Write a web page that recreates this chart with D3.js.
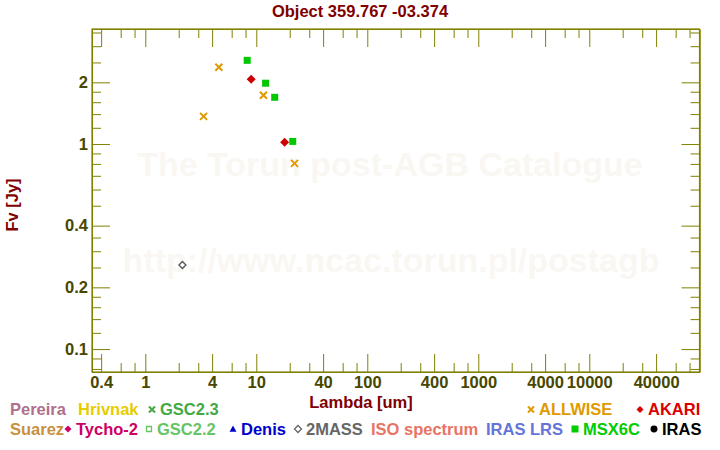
<!DOCTYPE html>
<html><head><meta charset="utf-8">
<script src="https://cdn.jsdelivr.net/npm/d3@7"></script>
<style>
body{margin:0;background:#fff;}
svg{display:block;font-family:"Liberation Sans",Arial,sans-serif;font-weight:bold;}
</style></head>
<body><svg id="c" width="720" height="450"></svg>
<script>
// ---- data ----
const titleText = "Object 359.767 -03.374";
const xLabel = "Lambda [um]";
const yLabel = "Fv [Jy]";
const watermark1 = "The Torun post-AGB Catalogue";
const watermark2 = "http://www.ncac.torun.pl/postagb";

const xDomain = [0.331, 98400];
const yDomain = [0.0773, 3.64];
const xMajorTicks = [0.4, 1, 4, 10, 40, 100, 400, 1000, 4000, 10000, 40000];
const xMinorTicks = [0.6, 0.8, 2, 3, 6, 8, 20, 30, 60, 80, 200, 300, 600, 800, 2000, 3000, 6000, 8000, 20000, 30000, 60000, 80000];
const yMajorTicks = [0.1, 0.2, 0.4, 1, 2];
const yMinorTicks = [0.08, 0.09, 0.12, 0.14, 0.16, 0.18, 0.25, 0.3, 0.35, 0.5, 0.6, 0.7, 0.8, 0.9, 1.2, 1.4, 1.6, 1.8, 2.5, 3, 3.5];

const allwiseLambda = [3.35, 4.6, 11.6, 22.1];
const allwiseFlux   = [1.365, 2.37, 1.73, 0.805];
const akariLambda   = [9, 18];
const akariFlux     = [2.07, 1.02];
const msxLambda     = [8.28, 12.13, 14.65, 21.3];
const msxFlux       = [2.56, 1.98, 1.69, 1.03];
const twomassLambda = [2.16];
const twomassFlux   = [0.257];

const legendRow1 = [
  {name:"Pereira", color:"#b0708c", sym:null},
  {name:"Hrivnak", color:"#e6cc00", sym:null},
  {name:"GSC2.3", color:"#44a844", sym:"x"},
  {name:"ALLWISE", color:"#e09a00", sym:"x"},
  {name:"AKARI", color:"#dd0000", sym:"diamond"}
];
const legendRow2 = [
  {name:"Suarez", color:"#c89040", sym:null},
  {name:"Tycho-2", color:"#cc0066", sym:"diamond"},
  {name:"GSC2.2", color:"#66c466", sym:"osquare"},
  {name:"Denis", color:"#0000cc", sym:"triangle"},
  {name:"2MASS", color:"#666666", sym:"odiamond"},
  {name:"ISO spectrum", color:"#e87464", sym:null},
  {name:"IRAS LRS", color:"#6474d8", sym:null},
  {name:"MSX6C", color:"#00cc00", sym:"square"},
  {name:"IRAS", color:"#000000", sym:"circle"}
];

// ---- layout ----
const L = 92, R = 699.5, T = 29, B = 372;
const FS = 16.5;
const axisColor = "#808000", tickLabelColor = "#474700", titleColor = "#800000";

const svg = d3.select("#c");
const x = d3.scaleLog().domain(xDomain).range([L, R]);
const y = d3.scaleLog().domain(yDomain).range([B, T]);

// watermark
svg.append("text").attr("x", 390).attr("y", 176).attr("text-anchor","middle")
  .attr("font-size",34).attr("fill","#faf7f3").text(watermark1);
svg.append("text").attr("x", 391).attr("y", 272).attr("text-anchor","middle")
  .attr("font-size",34).attr("fill","#faf7f3").text(watermark2);

// axes
function styleAxis(g){
  g.selectAll("path").attr("stroke", axisColor);
  g.selectAll("line").attr("stroke", axisColor);
  g.selectAll("text").attr("fill", tickLabelColor).attr("font-size",FS)
    .attr("font-family","'Liberation Sans',Arial,sans-serif").attr("font-weight","bold");
}
const fmt = d => String(d);
// bottom
svg.append("g").attr("transform",`translate(0,${B})`)
  .call(d3.axisBottom(x).tickValues(xMajorTicks).tickFormat(fmt).tickSizeInner(-18).tickSizeOuter(0).tickPadding(4))
  .call(styleAxis);
svg.append("g").attr("transform",`translate(0,${B})`)
  .call(d3.axisBottom(x).tickValues(xMinorTicks).tickFormat("").tickSizeInner(-9).tickSizeOuter(0))
  .call(styleAxis);
// top
svg.append("g").attr("transform",`translate(0,${T})`)
  .call(d3.axisTop(x).tickValues(xMajorTicks).tickFormat("").tickSizeInner(-18).tickSizeOuter(0))
  .call(styleAxis);
svg.append("g").attr("transform",`translate(0,${T})`)
  .call(d3.axisTop(x).tickValues(xMinorTicks).tickFormat("").tickSizeInner(-9).tickSizeOuter(0))
  .call(styleAxis);
// left
svg.append("g").attr("transform",`translate(${L},0)`)
  .call(d3.axisLeft(y).tickValues(yMajorTicks).tickFormat(fmt).tickSizeInner(-18).tickSizeOuter(0).tickPadding(4))
  .call(styleAxis);
svg.append("g").attr("transform",`translate(${L},0)`)
  .call(d3.axisLeft(y).tickValues(yMinorTicks).tickFormat("").tickSizeInner(-9).tickSizeOuter(0))
  .call(styleAxis);
// right
svg.append("g").attr("transform",`translate(${R},0)`)
  .call(d3.axisRight(y).tickValues(yMajorTicks).tickFormat("").tickSizeInner(-18).tickSizeOuter(0))
  .call(styleAxis);
svg.append("g").attr("transform",`translate(${R},0)`)
  .call(d3.axisRight(y).tickValues(yMinorTicks).tickFormat("").tickSizeInner(-9).tickSizeOuter(0))
  .call(styleAxis);
// frame
svg.append("rect").attr("x",L).attr("y",T).attr("width",R-L).attr("height",B-T)
  .attr("fill","none").attr("stroke",axisColor).attr("stroke-width",1.2);

// titles
svg.append("text").attr("x",360).attr("y",17).attr("text-anchor","middle")
  .attr("font-size",FS).attr("fill",titleColor).text(titleText);
svg.append("text").attr("x",361).attr("y",408).attr("text-anchor","middle")
  .attr("font-size",FS).attr("fill",titleColor).text(xLabel);
svg.append("text").attr("transform","translate(18,205) rotate(-90)").attr("text-anchor","middle")
  .attr("font-size",FS).attr("fill",titleColor).text(yLabel);

// marker paths
function symPath(type, s){
  const h = s/2;
  switch(type){
    case "x": return `M${-h},${-h}L${h},${h}M${-h},${h}L${h},${-h}`;
    case "diamond": case "odiamond": return `M0,${-h}L${h},0L0,${h}L${-h},0Z`;
    case "square": case "osquare": return `M${-h},${-h}H${h}V${h}H${-h}Z`;
    case "triangle": return `M0,${-h}L${h},${h*0.8}L${-h},${h*0.8}Z`;
    case "circle": return d3.symbol(d3.symbolCircle, s*s*0.78)();
  }
}
function drawMarker(g, type, color, s, cx, cy){
  const p = g.append("path").attr("d", symPath(type, s)).attr("transform",`translate(${cx},${cy})`);
  if(type==="x"){ p.attr("fill","none").attr("stroke",color).attr("stroke-width",2); }
  else if(type==="odiamond"||type==="osquare"){ p.attr("fill","#fff").attr("stroke",color).attr("stroke-width",1.3); }
  else { p.attr("fill",color); }
}

// data marks
const marks = svg.append("g");
allwiseLambda.forEach((l,i)=>drawMarker(marks,"x","#e09a00",7,x(l),y(allwiseFlux[i])));
akariLambda.forEach((l,i)=>drawMarker(marks,"diamond","#cc0000",9,x(l),y(akariFlux[i])));
msxLambda.forEach((l,i)=>drawMarker(marks,"square","#00c800",7,x(l),y(msxFlux[i])));
twomassLambda.forEach((l,i)=>drawMarker(marks,"odiamond","#555555",7,x(l),y(twomassFlux[i])));

// legend
const legendX1 = [10, 78, 160, 539, 648];
const legendX2 = [10, 76, 157, 241, 306, 371, 486, 583, 662];
function drawLegend(items, xs, baseline){
  const g = svg.append("g");
  items.forEach((it,i)=>{
    if(it.sym){
      const sz = it.sym==="osquare" ? 5 : (it.sym==="x"?6:7);
      drawMarker(g, it.sym, it.color, sz, xs[i]-8, baseline-5.5);
    }
    g.append("text").attr("x",xs[i]).attr("y",baseline).attr("font-size",FS)
      .attr("fill",it.color).text(it.name);
  });
}
drawLegend(legendRow1, legendX1, 415);
drawLegend(legendRow2, legendX2, 434.5);
</script></body></html>
